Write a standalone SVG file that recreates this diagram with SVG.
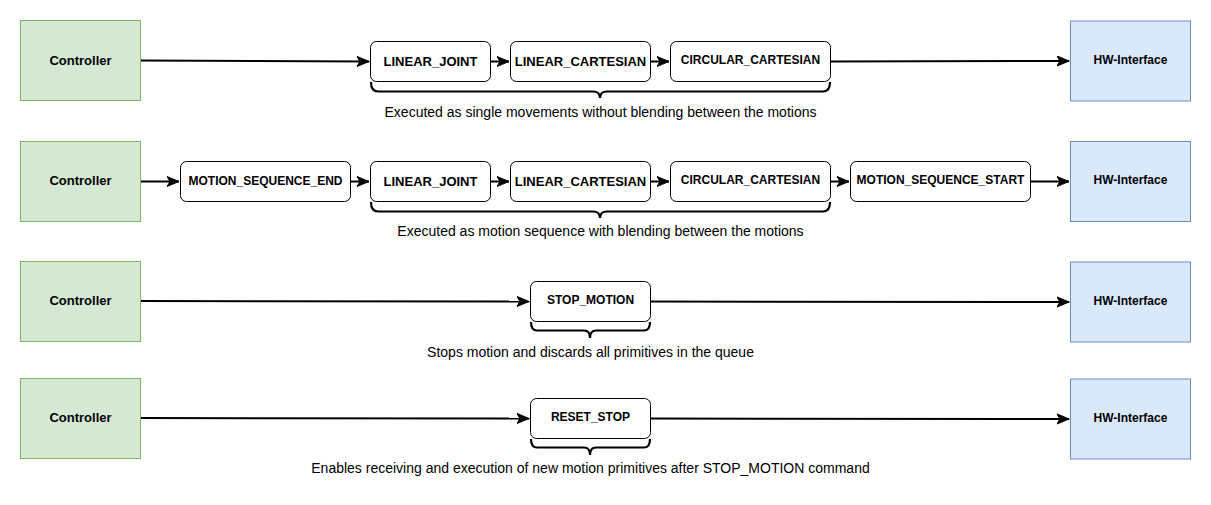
<svg xmlns="http://www.w3.org/2000/svg" width="1211" height="505" viewBox="0 0 1211 505">
<style>
.ctrl{fill:#d5e8d4;stroke:#82b366;stroke-width:1}
.hw{fill:#dae8fc;stroke:#6c8ebf;stroke-width:1}
.prim{fill:#ffffff;stroke:#000000;stroke-width:1}
.lbl{font-family:"Liberation Sans",Arial,sans-serif;font-weight:bold;font-size:12px;fill:#000;text-anchor:middle;dominant-baseline:central}
.big{font-size:13px}
.desc{font-family:"Liberation Sans",Arial,sans-serif;font-size:14px;fill:#000;text-anchor:middle;dominant-baseline:central}
.edge{fill:none;stroke:#000;stroke-width:2}
.brace{fill:none;stroke:#000;stroke-width:2.2}
</style>
<defs>
<marker id="arr" markerUnits="userSpaceOnUse" markerWidth="14" markerHeight="12" refX="12" refY="5.5" orient="auto">
<path d="M0,0.5 L12,5.5 L0,10.5 L3,5.5 Z" fill="#000" stroke="#000" stroke-width="1"/>
</marker>
</defs>
<g id="connectors">
<path class="edge" d="M140.5,60.5 L369,61.5" marker-end="url(#arr)"/>
<path class="edge" d="M490.5,61.5 L509,61.5" marker-end="url(#arr)"/>
<path class="edge" d="M650.5,61.5 L669,61.5" marker-end="url(#arr)"/>
<path class="edge" d="M830.5,61.5 L1069,61" marker-end="url(#arr)"/>
<path class="edge" d="M140.5,181.5 L179,181.5" marker-end="url(#arr)"/>
<path class="edge" d="M350.5,181.5 L369,181.5" marker-end="url(#arr)"/>
<path class="edge" d="M490.5,181.5 L509,181.5" marker-end="url(#arr)"/>
<path class="edge" d="M650.5,181.5 L669,181.5" marker-end="url(#arr)"/>
<path class="edge" d="M830.5,181.5 L849,181.5" marker-end="url(#arr)"/>
<path class="edge" d="M1030.5,181.5 L1069,181.5" marker-end="url(#arr)"/>
<path class="edge" d="M140.5,301 L529,301.5" marker-end="url(#arr)"/>
<path class="edge" d="M650.5,301.5 L1069,302" marker-end="url(#arr)"/>
<path class="edge" d="M140.5,418 L529,418.5" marker-end="url(#arr)"/>
<path class="edge" d="M650.5,418.5 L1069,419" marker-end="url(#arr)"/>
</g>
<g id="ctrl1"><rect class="ctrl" x="20.5" y="20.5" width="120" height="80"/><text class="lbl big" x="80.5" y="60">Controller</text></g>
<g id="hw1"><rect class="hw" x="1070.5" y="21" width="120" height="80"/><text class="lbl" x="1130.5" y="60">HW-Interface</text></g>
<g id="lj1"><rect class="prim" x="370.5" y="41.5" width="120" height="40" rx="6"/><text class="lbl big" x="430.5" y="61">LINEAR_JOINT</text></g>
<g id="lc1"><rect class="prim" x="510.5" y="41.5" width="140" height="40" rx="6"/><text class="lbl big" x="580.5" y="61">LINEAR_CARTESIAN</text></g>
<g id="cc1"><rect class="prim" x="670.5" y="41.5" width="160" height="40" rx="6"/><text class="lbl" x="750.5" y="60">CIRCULAR_CARTESIAN</text></g>
<g id="brace1"><path class="brace" d="M371,82 Q371,91.5 378,91.5 L593,91.5 Q600,91.5 600,98 Q600,91.5 607,91.5 L823,91.5 Q830,91.5 830,82"/><text class="desc" x="600.5" y="111.5">Executed as single movements without blending between the motions</text></g>

<g id="ctrl2"><rect class="ctrl" x="20.5" y="141.5" width="120" height="80"/><text class="lbl big" x="80.5" y="180.5">Controller</text></g>
<g id="hw2"><rect class="hw" x="1070.5" y="141.5" width="120" height="80"/><text class="lbl" x="1130.5" y="180">HW-Interface</text></g>
<g id="mse2"><rect class="prim" x="180.5" y="161.5" width="170" height="40" rx="6"/><text class="lbl" x="265.5" y="180.5">MOTION_SEQUENCE_END</text></g>
<g id="lj2"><rect class="prim" x="370.5" y="161.5" width="120" height="40" rx="6"/><text class="lbl big" x="430.5" y="181">LINEAR_JOINT</text></g>
<g id="lc2"><rect class="prim" x="510.5" y="161.5" width="140" height="40" rx="6"/><text class="lbl big" x="580.5" y="181">LINEAR_CARTESIAN</text></g>
<g id="cc2"><rect class="prim" x="670.5" y="161.5" width="160" height="40" rx="6"/><text class="lbl" x="750.5" y="180">CIRCULAR_CARTESIAN</text></g>
<g id="mss2"><rect class="prim" x="850.5" y="161.5" width="180" height="40" rx="6"/><text class="lbl" x="940.5" y="180">MOTION_SEQUENCE_START</text></g>
<g id="brace2"><path class="brace" d="M371,202 Q371,211.5 378,211.5 L593,211.5 Q600,211.5 600,218 Q600,211.5 607,211.5 L823,211.5 Q830,211.5 830,202"/><text class="desc" x="600.5" y="231">Executed as motion sequence with blending between the motions</text></g>

<g id="ctrl3"><rect class="ctrl" x="20.5" y="261.5" width="120" height="80"/><text class="lbl big" x="80.5" y="300.5">Controller</text></g>
<g id="hw3"><rect class="hw" x="1070.5" y="262" width="120" height="80"/><text class="lbl" x="1130.5" y="300.5">HW-Interface</text></g>
<g id="stop3"><rect class="prim" x="530.5" y="281.5" width="120" height="40" rx="6"/><text class="lbl" x="590.5" y="300">STOP_MOTION</text></g>
<g id="brace3"><path class="brace" d="M531,322 Q531,330.5 537,330.5 L584,330.5 Q590,330.5 590,338 Q590,330.5 596,330.5 L644,330.5 Q650,330.5 650,322"/><text class="desc" x="590.5" y="351.5">Stops motion and discards all primitives in the queue</text></g>

<g id="ctrl4"><rect class="ctrl" x="20.5" y="378.5" width="120" height="80"/><text class="lbl big" x="80.5" y="417.5">Controller</text></g>
<g id="hw4"><rect class="hw" x="1070.5" y="379" width="120" height="80"/><text class="lbl" x="1130.5" y="417.5">HW-Interface</text></g>
<g id="reset4"><rect class="prim" x="530.5" y="398.5" width="120" height="40" rx="6"/><text class="lbl" x="590.5" y="417">RESET_STOP</text></g>
<g id="brace4"><path class="brace" d="M531,439 Q531,447.5 537,447.5 L584,447.5 Q590,447.5 590,455 Q590,447.5 596,447.5 L644,447.5 Q650,447.5 650,439"/><text class="desc" x="590.5" y="468">Enables receiving and execution of new motion primitives after STOP_MOTION command</text></g>
</svg>
